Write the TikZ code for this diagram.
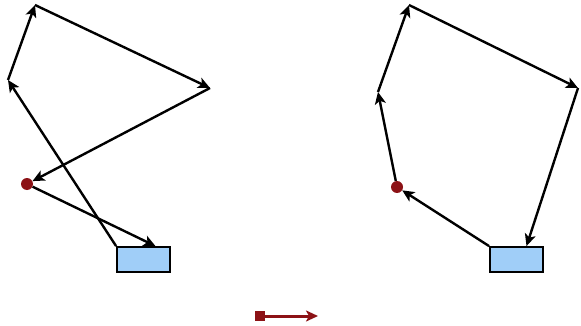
\documentclass[tikz,border=0pt]{standalone}
\usetikzlibrary{arrows.meta}
\definecolor{boxblue}{RGB}{160,206,248}
\definecolor{dotred}{RGB}{140,18,22}
\tikzset{
  edge/.style={line width=2.4pt, -{Stealth[length=12pt,width=11pt,inset=3pt]}},
  target/.style={draw=black, line width=1.8pt, fill=boxblue, minimum width=53pt, minimum height=25pt, inner sep=0pt},
  spot/.style={circle, fill=dotred, minimum size=12pt, inner sep=0pt},
}
\begin{document}
\begin{tikzpicture}[x=1pt,y=-1pt]
\useasboundingbox (0,0) rectangle (581,326);
% left loop
\coordinate (la) at (35,5);
\coordinate (lb) at (8,80);
\coordinate (lc) at (210,88);
\node[spot] (ld) at (27,184) {};
\node[target] (lr) at (143.5,259.5) {};
\draw[edge] (lr.north west) -- (lb);
\draw[edge] (lb) -- (la);
\draw[edge] (la) -- (lc);
\draw[edge] (lc) -- (ld);
\draw[edge] (ld) -- ([xshift=12pt]lr.north);
% right loop
\coordinate (ra) at (409,5);
\coordinate (rb) at (378,92);
\coordinate (rc) at (578,88);
\node[spot] (rd) at (397,187) {};
\node[target] (rr) at (516.5,259.5) {};
\draw[edge] (rr.north west) -- (rd);
\draw[edge] (rd) -- (rb);
\draw[edge] (rb) -- (ra);
\draw[edge] (ra) -- (rc);
\draw[edge] (rc) -- ([xshift=10pt]rr.north);
% legend
\node[fill=dotred, minimum size=10pt, inner sep=0pt] (ls) at (260,316) {};
\coordinate (le) at (318,316);
\draw[line width=3pt, dotred, -{Stealth[length=12pt,width=11pt,inset=3pt]}] (ls) -- (le);
\end{tikzpicture}
\end{document}
